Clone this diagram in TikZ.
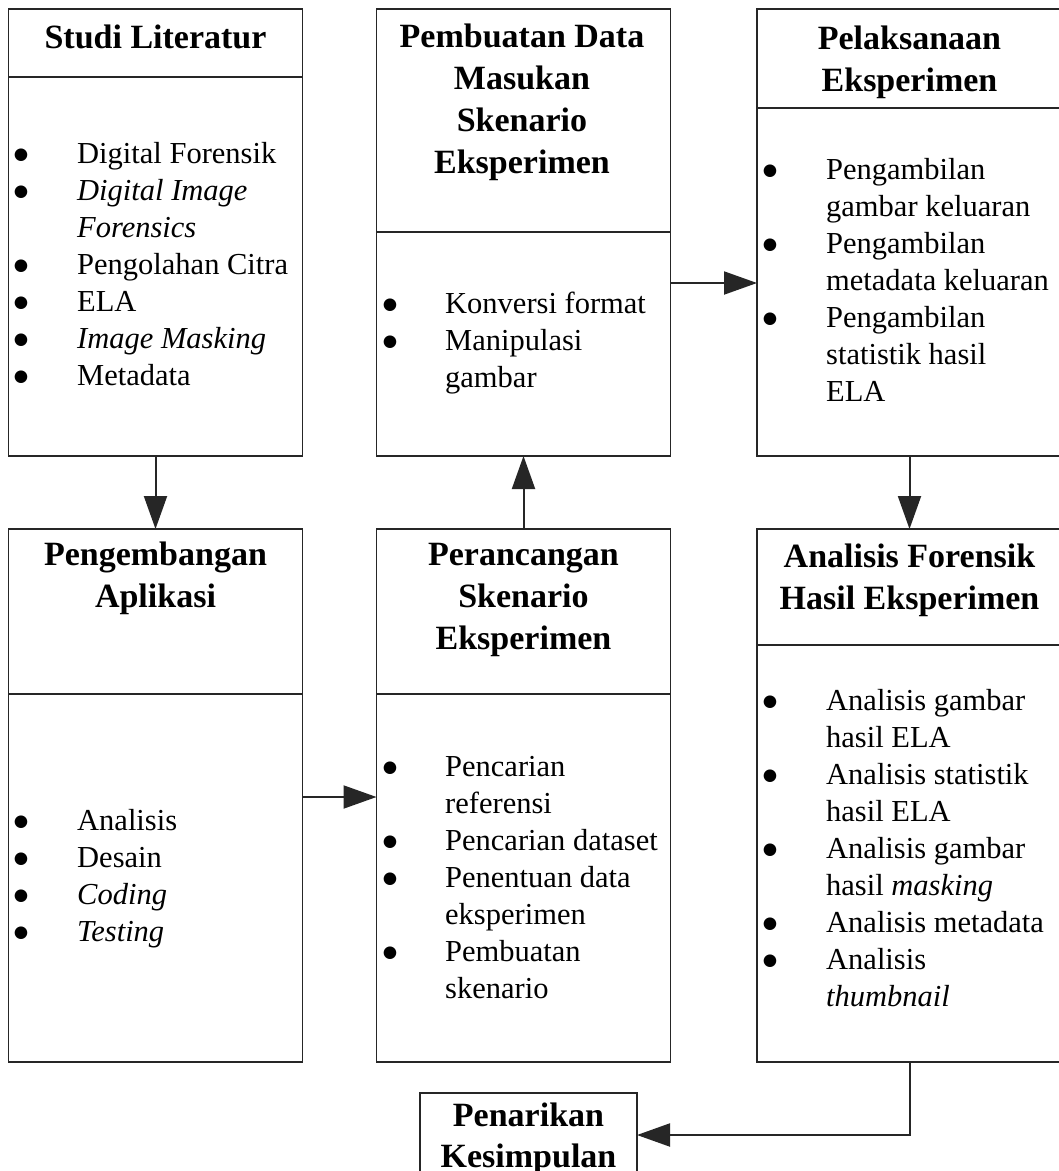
\documentclass[tikz,border=0pt]{standalone}
\usepackage{fontspec}
\setmainfont{Liberation Serif}
\newfontfamily\dejavu{DejaVu Sans}
\usetikzlibrary{arrows.meta}
\tikzset{
  box/.style={draw=black!85, line width=1.7pt, inner sep=0pt, outer sep=0pt, rectangle},
  divline/.style={draw=black!85, line width=1.7pt},
  ttl/.style={font=\fontsize{34}{42}\selectfont\bfseries, anchor=base, inner sep=0pt},
  itm/.style={font=\fontsize{30.5}{37}\selectfont, anchor=base west, inner sep=0pt},
  bul/.style={font=\dejavu\fontsize{16.5}{18}\selectfont, anchor=base, inner sep=0pt, yshift=4pt},
  arr/.style={draw=black!85, line width=2pt, -{Triangle[length=33pt,width=23pt]}}
}
\newcommand{\bulletmark}{●}
\begin{document}
\begin{tikzpicture}[x=1pt,y=-1pt]
\useasboundingbox (0,0) rectangle (1059,1171);
\clip (0,0) rectangle (1059,1171);
\fill[white] (0,0) rectangle (1059,1171);

% boxes
\node[box, minimum width=294pt, minimum height=447pt] (b1) at (155.5,232.5) {};
\node[box, minimum width=294pt, minimum height=447pt] (b2) at (523.5,232.5) {};
\node[box, minimum width=305pt, minimum height=447pt] (b3) at (909.5,232.5) {};
\node[box, minimum width=294pt, minimum height=533pt] (b4) at (155.5,795.5) {};
\node[box, minimum width=294pt, minimum height=533pt] (b5) at (523.5,795.5) {};
\node[box, minimum width=305pt, minimum height=533pt] (b6) at (909.5,795.5) {};
\node[box, minimum width=217pt, minimum height=90pt] (b7) at (528.5,1138) {};

% dividers
\draw[divline] (b1.west |- 0,77) -- (b1.east |- 0,77);
\draw[divline] (b2.west |- 0,232) -- (b2.east |- 0,232);
\draw[divline] (b3.west |- 0,108) -- (b3.east |- 0,108);
\draw[divline] (b4.west |- 0,694) -- (b4.east |- 0,694);
\draw[divline] (b5.west |- 0,694) -- (b5.east |- 0,694);
\draw[divline] (b6.west |- 0,645) -- (b6.east |- 0,645);

% titles
\node[ttl] (t1) at (155.5,48) {Studi Literatur};
\node[ttl] (t2a) at (522,47) {Pembuatan Data};
\node[ttl] (t2b) at (522,89) {Masukan};
\node[ttl] (t2c) at (522,131) {Skenario};
\node[ttl] (t2d) at (522,173) {Eksperimen};
\node[ttl] (t3a) at (909.5,49) {Pelaksanaan};
\node[ttl] (t3b) at (909.5,91) {Eksperimen};
\node[ttl] (t4a) at (155.5,565) {Pengembangan};
\node[ttl] (t4b) at (155.5,607) {Aplikasi};
\node[ttl] (t5a) at (523.5,565) {Perancangan};
\node[ttl] (t5b) at (523.5,607) {Skenario};
\node[ttl] (t5c) at (523.5,649) {Eksperimen};
\node[ttl] (t6a) at (909.5,567) {Analisis Forensik};
\node[ttl] (t6b) at (909.5,609) {Hasil Eksperimen};
\node[ttl] (t7a) at (528.5,1126) {Penarikan};
\node[ttl] (t7b) at (528.5,1167) {Kesimpulan};

% box 1 items
\node[bul] (p1a) at (21,163) {\bulletmark};
\node[itm] (i1a) at (77,163) {Digital Forensik};
\node[bul] (p1b) at (21,200) {\bulletmark};
\node[itm] (i1b) at (77,200) {\itshape Digital Image};
\node[itm] (i1c) at (77,237) {\itshape Forensics};
\node[bul] (p1d) at (21,274) {\bulletmark};
\node[itm] (i1d) at (77,274) {Pengolahan Citra};
\node[bul] (p1e) at (21,311) {\bulletmark};
\node[itm] (i1e) at (77,311) {ELA};
\node[bul] (p1f) at (21,348) {\bulletmark};
\node[itm] (i1f) at (77,348) {\itshape Image Masking};
\node[bul] (p1g) at (21,385) {\bulletmark};
\node[itm] (i1g) at (77,385) {Metadata};

% box 2 items
\node[bul] (p2a) at (390,313) {\bulletmark};
\node[itm] (i2a) at (445,313) {Konversi format};
\node[bul] (p2b) at (390,350) {\bulletmark};
\node[itm] (i2b) at (445,350) {Manipulasi};
\node[itm] (i2c) at (445,387) {gambar};

% box 3 items
\node[bul] (p3a) at (770,179) {\bulletmark};
\node[itm] (i3a) at (826,179) {Pengambilan};
\node[itm] (i3b) at (826,216) {gambar keluaran};
\node[bul] (p3c) at (770,253) {\bulletmark};
\node[itm] (i3c) at (826,253) {Pengambilan};
\node[itm] (i3d) at (826,290) {metadata keluaran};
\node[bul] (p3e) at (770,327) {\bulletmark};
\node[itm] (i3e) at (826,327) {Pengambilan};
\node[itm] (i3f) at (826,364) {statistik hasil};
\node[itm] (i3g) at (826,401) {ELA};

% box 4 items
\node[bul] (p4a) at (21,830) {\bulletmark};
\node[itm] (i4a) at (77,830) {Analisis};
\node[bul] (p4b) at (21,867) {\bulletmark};
\node[itm] (i4b) at (77,867) {Desain};
\node[bul] (p4c) at (21,904) {\bulletmark};
\node[itm] (i4c) at (77,904) {\itshape Coding};
\node[bul] (p4d) at (21,941) {\bulletmark};
\node[itm] (i4d) at (77,941) {\itshape Testing};

% box 5 items
\node[bul] (p5a) at (390,776) {\bulletmark};
\node[itm] (i5a) at (445,776) {Pencarian};
\node[itm] (i5b) at (445,813) {referensi};
\node[bul] (p5c) at (390,850) {\bulletmark};
\node[itm] (i5c) at (445,850) {Pencarian dataset};
\node[bul] (p5d) at (390,887) {\bulletmark};
\node[itm] (i5d) at (445,887) {Penentuan data};
\node[itm] (i5e) at (445,924) {eksperimen};
\node[bul] (p5f) at (390,961) {\bulletmark};
\node[itm] (i5f) at (445,961) {Pembuatan};
\node[itm] (i5g) at (445,998) {skenario};

% box 6 items
\node[bul] (p6a) at (770,710) {\bulletmark};
\node[itm] (i6a) at (826,710) {Analisis gambar};
\node[itm] (i6b) at (826,747) {hasil ELA};
\node[bul] (p6c) at (770,784) {\bulletmark};
\node[itm] (i6c) at (826,784) {Analisis statistik};
\node[itm] (i6d) at (826,821) {hasil ELA};
\node[bul] (p6e) at (770,858) {\bulletmark};
\node[itm] (i6e) at (826,858) {Analisis gambar};
\node[itm] (i6f) at (826,895) {hasil \textit{masking}};
\node[bul] (p6g) at (770,932) {\bulletmark};
\node[itm] (i6g) at (826,932) {Analisis metadata};
\node[bul] (p6h) at (770,969) {\bulletmark};
\node[itm] (i6h) at (826,969) {Analisis};
\node[itm] (i6i) at (826,1006) {\itshape thumbnail};

% connectors
\draw[arr] (b1.south) -- (b4.north);
\draw[arr] (b5.north) -- (b2.south);
\draw[arr] (b3.south) -- (b6.north);
\draw[arr] (b2.east |- 0,283) -- (b3.west |- 0,283);
\draw[arr] (b4.east |- 0,797) -- (b5.west |- 0,797);
\draw[arr] (b6.south) |- (b7.east |- 0,1135);
\end{tikzpicture}
\end{document}
